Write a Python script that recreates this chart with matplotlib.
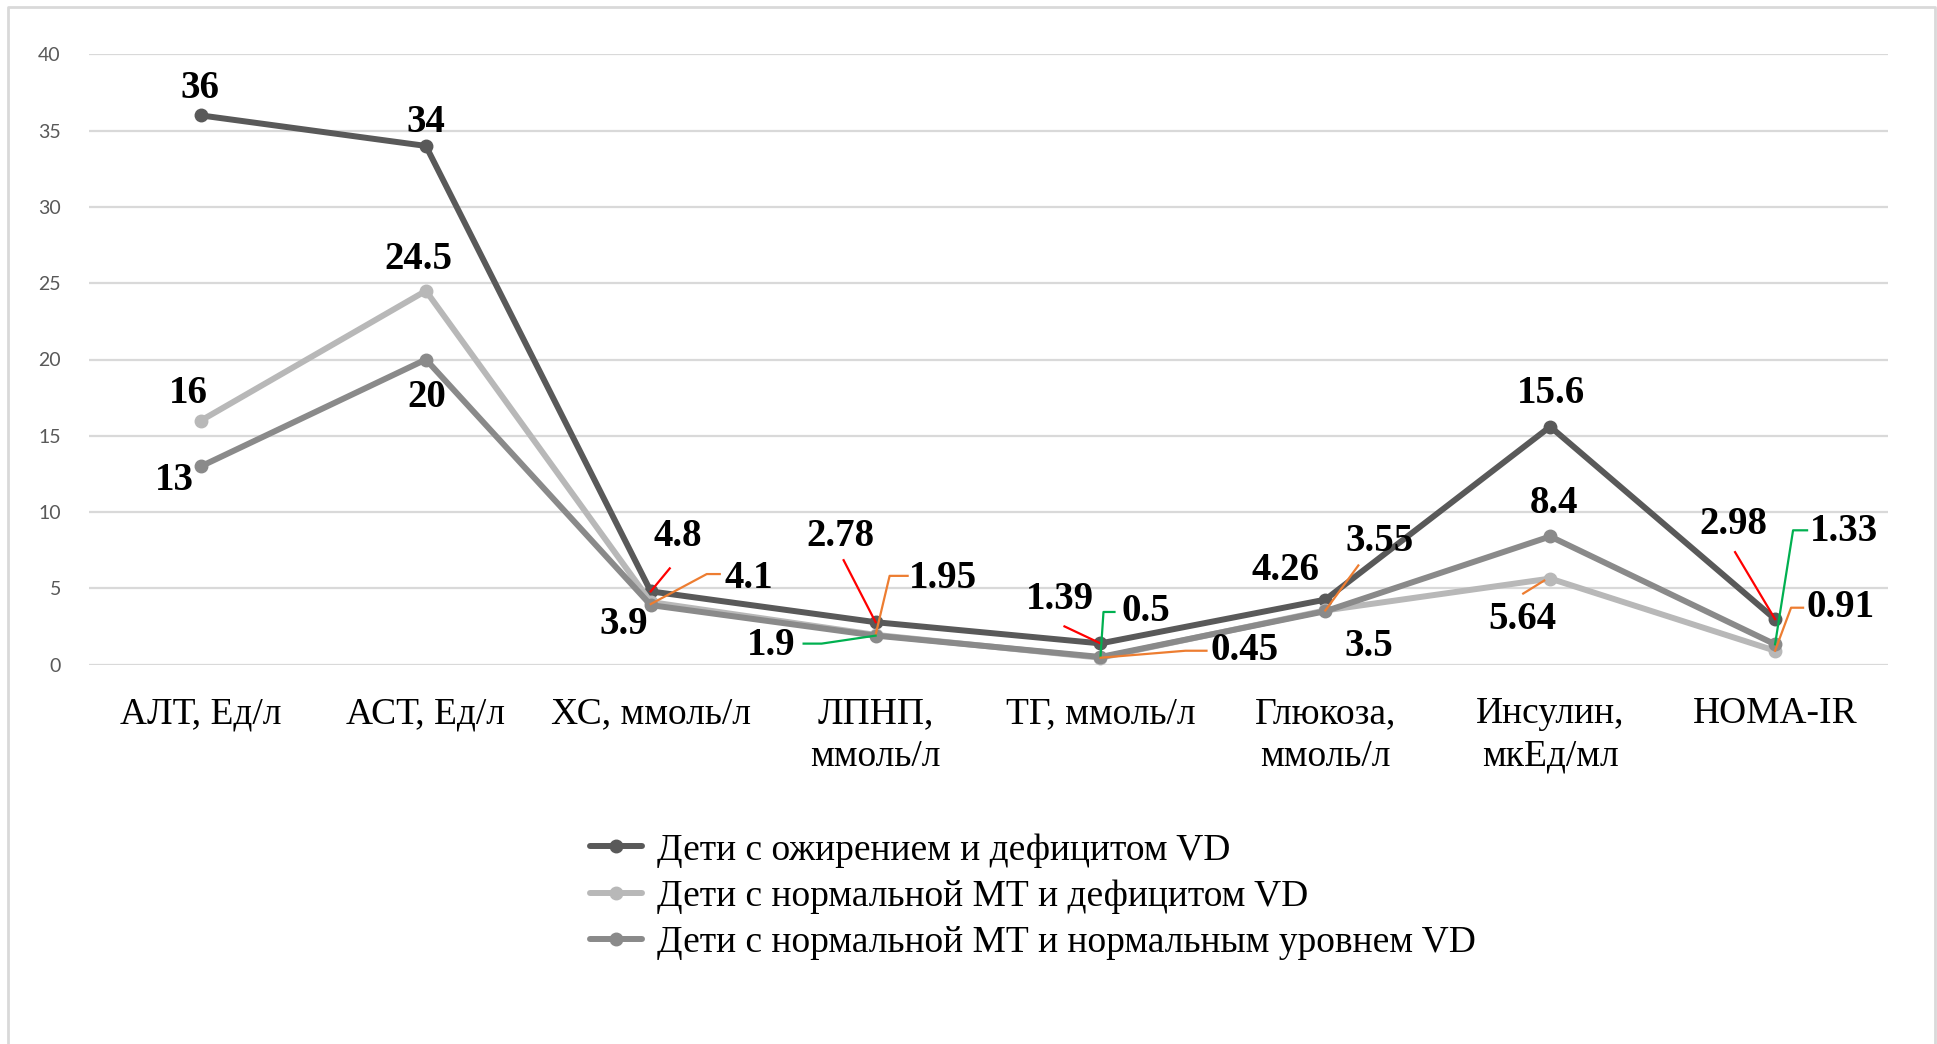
import numpy as np
import matplotlib.pyplot as plt
from matplotlib.lines import Line2D
from matplotlib.transforms import IdentityTransform

# data
categories = ['АЛТ, Ед/л', 'АСТ, Ед/л', 'ХС, ммоль/л', 'ЛПНП,\nммоль/л',
              'ТГ, ммоль/л', 'Глюкоза,\nммоль/л', 'Инсулин,\nмкЕд/мл', 'HOMA-IR']
obese_def = [36, 34, 4.8, 2.78, 1.39, 4.26, 15.6, 2.98]
normal_def = [16, 24.5, 4.1, 1.95, 0.45, 3.55, 5.64, 0.91]
normal_norm = [13, 20, 3.9, 1.9, 0.5, 3.5, 8.4, 1.33]
series_names = ['Дети с ожирением и дефицитом VD',
                'Дети с нормальной МТ и дефицитом VD',
                'Дети с нормальной МТ и нормальным уровнем VD']
yticks = [0, 5, 10, 15, 20, 25, 30, 35, 40]

colors = ['#595959', '#b8b8b8', '#8a8a8a']

# label offsets in pixels from the point (dx, dy up), per series
label_off = [
    [(-1, 27), (0, 23), (27, 55), (-35, 86), (-41, 44), (-40, 29), (1, 33), (-42, 95)],
    [(-13, 27), (-8, 31), (98, 24), (67, 56), (144, 7), (54, 69), (-28, -41), (65, 43)],
    [(-27, -14), (1, -38), (-27, -19), (-104, -10), (45, 45), (43, -35), (4, 33), (69, 113)],
]

# leader lines: (series, category, colour, path of pixel offsets)
RED, ORANGE, GREEN = '#ff0000', '#ed7d31', '#00b050'
leaders = [
    (0, 2, RED, [(19, 23), (0, 0)]),
    (1, 2, ORANGE, [(69, 28), (56, 28), (0, -2)]),
    (0, 3, RED, [(-32, 62), (0, 0)]),
    (1, 3, ORANGE, [(32, 59), (14, 59), (0, 0)]),
    (2, 3, GREEN, [(-72, -8), (-54, -8), (0, 0)]),
    (0, 4, RED, [(-36, 17), (0, 0)]),
    (2, 4, GREEN, [(14, 45), (3, 45), (0, 0)]),
    (1, 4, ORANGE, [(106, 7), (85, 7), (0, 0)]),
    (1, 5, ORANGE, [(33, 45), (0, 0)]),
    (1, 6, ORANGE, [(-27, -15), (-6, -2)]),
    (0, 7, RED, [(-40, 67), (0, 0)]),
    (2, 7, GREEN, [(32, 114), (18, 114), (0, 0)]),
    (1, 7, ORANGE, [(28, 43), (16, 43), (0, 0)]),
]

W, H = 1937, 1044
fig = plt.figure(figsize=(W / 100, H / 100), dpi=100)
ax = fig.add_axes([88.6 / W, 1 - 664.6 / H, (1887.5 - 88.6) / W, (664.6 - 54.4) / H])

x = np.arange(len(categories))
all_series = [obese_def, normal_def, normal_norm]
for vals, c, name in zip(all_series, colors, series_names):
    ax.plot(x, vals, color=c, lw=4.3, marker='o', ms=9, label=name,
            solid_capstyle='round', clip_on=False, zorder=3)

ax.set_xlim(-0.5, len(categories) - 0.5)
ax.set_ylim(0, 40)
ax.set_yticks(yticks)
ax.grid(axis='y', color='#d9d9d9', lw=1.6)
ax.set_axisbelow(True)
for s in ax.spines.values():
    s.set_visible(False)
ax.tick_params(length=0)
ax.tick_params(axis='y', labelsize=14, labelcolor='#595959', pad=20)
for t in ax.get_yticklabels():
    t.set_family('Lato')
ax.set_xticks(x)
ax.set_xticklabels(categories, family='Liberation Serif', fontsize=27,
                   linespacing=1.31)
ax.tick_params(axis='x', pad=23)

# data labels and leader lines in pixel space
fig.canvas.draw()
for si, vals in enumerate(all_series):
    for ci, v in enumerate(vals):
        dx, dy = label_off[si][ci]
        ax.annotate(f'{v:g}', (ci, v), xytext=(dx * 0.72, dy * 0.72),
                    textcoords='offset points', ha='center', va='center',
                    family='Liberation Serif', fontweight='bold', fontsize=28,
                    zorder=5)
for si, ci, c, path in leaders:
    px, py = ax.transData.transform((ci, all_series[si][ci]))
    xs = [px + p[0] for p in path]
    ys = [py + p[1] for p in path]
    fig.add_artist(Line2D(xs, ys, color=c, lw=1.6, transform=IdentityTransform(),
                          zorder=6))

leg = fig.legend(loc='upper left', bbox_to_anchor=(590 / W, 1 - 833 / H),
                 frameon=False, prop={'family': 'Liberation Serif', 'size': 27},
                 handlelength=1.39, handletextpad=0.4, labelspacing=0.31,
                 borderaxespad=0, borderpad=0)
for h in leg.legend_handles:
    h.set_markersize(9)

# outer chart border (left, top, right)
fig.add_artist(Line2D([8 / W, 8 / W, 1935 / W, 1935 / W], [0, 1 - 7 / H, 1 - 7 / H, 0],
                      color='#d9d9d9', lw=2, transform=fig.transFigure))

fig.savefig('out.png', dpi=100)
